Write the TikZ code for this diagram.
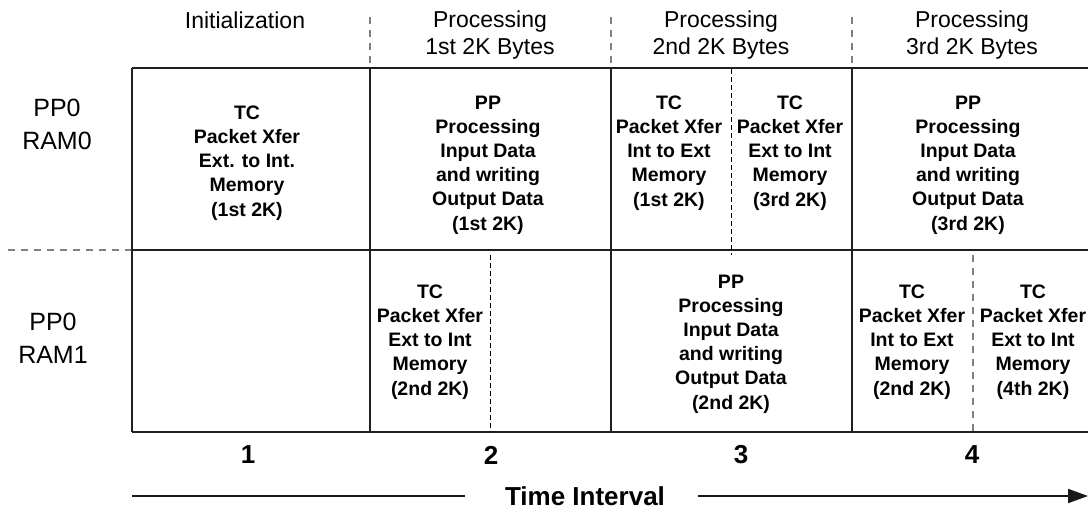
\documentclass[tikz,border=0pt]{standalone}
\usepackage{fontspec}
\setmainfont{Liberation Sans}
\usetikzlibrary{arrows.meta}
\begin{document}
\begin{tikzpicture}[x=1pt,y=-1pt,
  gridline/.style={line width=2pt, color=black!88},
  hsep/.style={line width=2pt, color=black!50, dash pattern=on 7pt off 6pt},
  celldash/.style={line width=1pt, color=black, dash pattern=on 5pt off 3pt},
  cellgray/.style={line width=2pt, color=black!50, dash pattern=on 7pt off 6pt},
  hdr/.style={font=\fontsize{23}{27}\selectfont, align=center, inner sep=0pt},
  rowlab/.style={font=\fontsize{25}{33}\selectfont, align=center, inner sep=0pt},
  cell/.style={font=\bfseries\fontsize{19.5}{24.2}\selectfont, align=center, inner sep=0pt},
  num/.style={font=\bfseries\fontsize{26}{30}\selectfont, inner sep=0pt},
  timeline/.style={line width=2pt, color=black!90},
]
\useasboundingbox (0,0) rectangle (1088,511);
\begin{scope}
\clip (0,0) rectangle (1088,511);
% grid
\draw[gridline] (132,68) -- (1100,68);
\draw[gridline] (132,250) -- (1100,250);
\draw[gridline] (132,432) -- (1100,432);
\draw[gridline] (132,68) -- (132,432);
\draw[gridline] (370,68) -- (370,432);
\draw[gridline] (611,68) -- (611,432);
\draw[gridline] (852,68) -- (852,432);
% header separators
\draw[hsep] (370,17) -- (370,67);
\draw[hsep] (611,17) -- (611,67);
\draw[hsep] (852,17) -- (852,67);
\draw[hsep] (8,250) -- (131,250);
% cell dashes
\draw[celldash] (731,69) -- (731,255);
\draw[celldash] (490,255) -- (490,432);
\draw[cellgray] (973,255) -- (973,432);

% headers
\node[hdr] (h1) at (245,20) {Initialization};
\node[hdr] (h2) at (490,35) {Processing\\1st 2K Bytes};
\node[hdr] (h3) at (721,35) {Processing\\2nd 2K Bytes};
\node[hdr] (h4) at (972,35) {Processing\\3rd 2K Bytes};

% row labels
\node[rowlab] (r0) at (57,124) {PP0\\RAM0};
\node[rowlab] (r1) at (53,338) {PP0\\RAM1};

% top row cells
\node[cell] (t1) at (247,163) {TC\\Packet Xfer\\Ext. to Int.\\Memory\\(1st 2K)};
\node[cell] (t2) at (488,165) {PP\\Processing\\Input Data\\and writing\\Output Data\\(1st 2K)};
\node[cell] (t3a) at (669,153) {TC\\Packet Xfer\\Int to Ext\\Memory\\(1st 2K)};
\node[cell] (t3b) at (790,153) {TC\\Packet Xfer\\Ext to Int\\Memory\\(3rd 2K)};
\node[cell] (t4) at (968,165) {PP\\Processing\\Input Data\\and writing\\Output Data\\(3rd 2K)};

% bottom row cells
\node[cell] (b2) at (430,342) {TC\\Packet Xfer\\Ext to Int\\Memory\\(2nd 2K)};
\node[cell] (b3) at (731,344) {PP\\Processing\\Input Data\\and writing\\Output Data\\(2nd 2K)};
\node[cell] (b4a) at (912,342) {TC\\Packet Xfer\\Int to Ext\\Memory\\(2nd 2K)};
\node[cell] (b4b) at (1033,342) {TC\\Packet Xfer\\Ext to Int\\Memory\\(4th 2K)};

% numbers
\node[num] (n1) at (248,455) {1};
\node[num] (n2) at (491,455) {2};
\node[num] (n3) at (741,455) {3};
\node[num] (n4) at (972,455) {4};

% time interval
\node[num] (ti) at (585,496) {Time Interval};
\coordinate (tstart) at (132,496);
\coordinate (tl) at (465,496);
\coordinate (tr) at (698,496);
\coordinate (tend) at (1088,496);
\draw[timeline] (tstart) -- (tl);
\draw[timeline, -{Triangle[length=20pt,width=14pt]}] (tr) -- (tend);
\end{scope}
\end{tikzpicture}
\end{document}
